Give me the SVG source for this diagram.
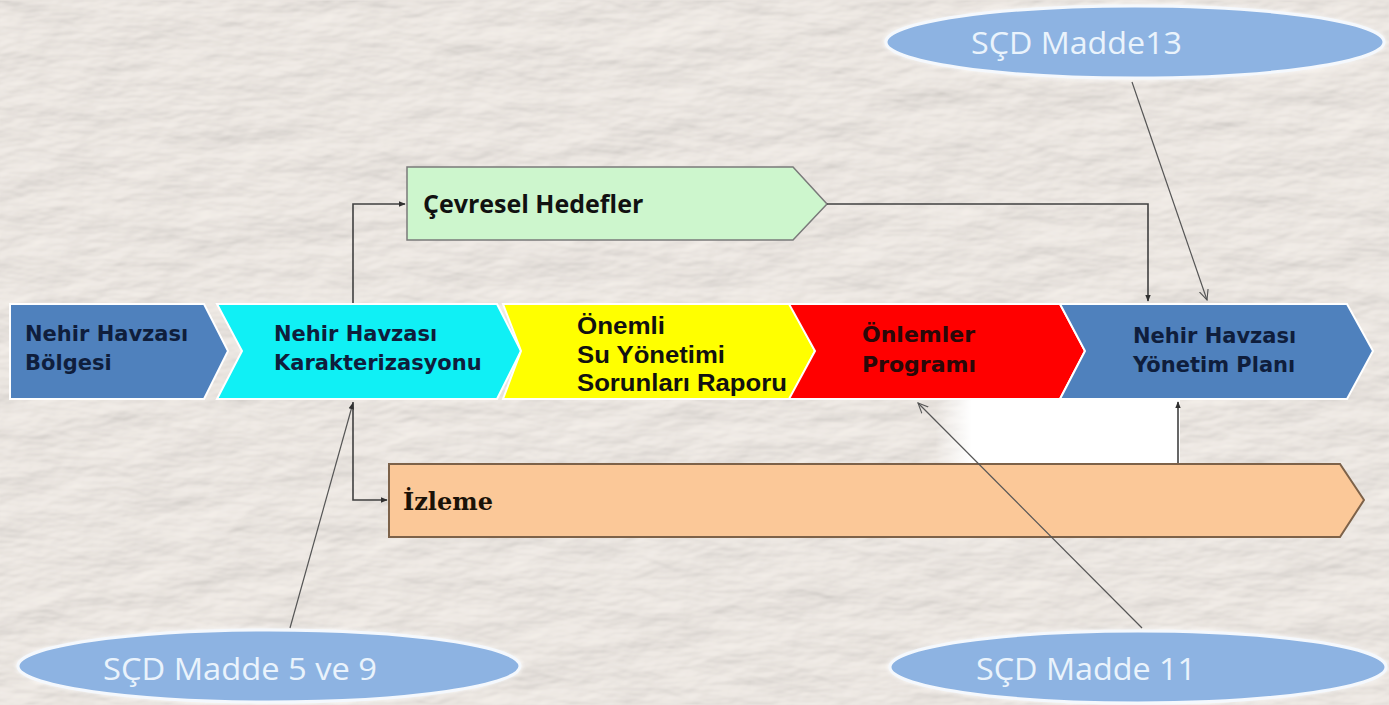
<svg xmlns="http://www.w3.org/2000/svg" width="1389" height="705" viewBox="0 0 1389 705">
<style>
  .t1 { font-family: "DejaVu Sans", Verdana, sans-serif; font-weight: bold; font-size: 21px; fill: #0f1e3c; }
  .t2 { font-family: "Liberation Sans", Arial, sans-serif; font-weight: bold; font-size: 24px; fill: #111; }
  .el { font-family: "Open Sans", "Noto Sans", sans-serif; font-size: 31px; fill: #eaf3fc; }
  .ell { fill: #8db3e2; stroke: #f4f8fd; stroke-width: 3; }
  .sep { stroke: #ffffff; stroke-width: 2; stroke-linejoin: miter; }
  .con { fill: none; stroke: #404040; stroke-width: 1.6; }
  .ref { fill: none; stroke: #555; stroke-width: 1.2; }
</style>
<defs>
  <filter id="paper" x="0" y="0" width="100%" height="100%">
    <feTurbulence type="fractalNoise" baseFrequency="0.012 0.03" numOctaves="4" seed="7" result="n"/>
    <feDiffuseLighting in="n" lighting-color="#f8f3ee" surfaceScale="3" result="l">
      <feDistantLight azimuth="235" elevation="60"/>
    </feDiffuseLighting>
    <feComposite in="l" in2="SourceGraphic" operator="in"/>
  </filter>
  <filter id="glow" x="-10%" y="-30%" width="120%" height="160%">
    <feGaussianBlur stdDeviation="2"/>
  </filter>
  <linearGradient id="wfade" x1="0" y1="0" x2="1" y2="0">
    <stop offset="0" stop-color="#ffffff" stop-opacity="0"/>
    <stop offset="0.15" stop-color="#ffffff" stop-opacity="1"/>
    <stop offset="1" stop-color="#ffffff" stop-opacity="1"/>
  </linearGradient>
  <marker id="ah" viewBox="0 0 10 10" refX="9" refY="5" markerWidth="7" markerHeight="7" orient="auto" markerUnits="userSpaceOnUse">
    <path d="M0,1 L10,5 L0,9 Z" fill="#303030"/>
  </marker>
  <marker id="ao" viewBox="0 0 12 12" refX="11" refY="6" markerWidth="11" markerHeight="11" orient="auto" markerUnits="userSpaceOnUse">
    <path d="M0,1 L11,6 L0,11" fill="none" stroke="#555" stroke-width="1.2"/>
  </marker>
</defs>

<rect x="0" y="0" width="1389" height="705" fill="#efe9e2"/>
<rect x="0" y="0" width="1389" height="705" fill="#efe9e2" filter="url(#paper)" opacity="0.8"/>

<rect x="935" y="400" width="245" height="63" fill="url(#wfade)"/>

<g id="n-bolge">
  <path class="sep" d="M10,304 H204 L228,351 L204,399 H10 Z" fill="#4f81bd"/>
  <text class="t1" x="25" y="341">Nehir Havzası</text>
  <text class="t1" x="25" y="370">Bölgesi</text>
</g>
<g id="n-karakter">
  <path class="sep" d="M217,304 H497 L521,351 L497,399 H217 L242,351 Z" fill="#10f0f5"/>
  <text class="t1" x="274" y="341">Nehir Havzası</text>
  <text class="t1" x="274" y="370">Karakterizasyonu</text>
</g>
<g id="n-onemli">
  <path class="sep" d="M503,304 H790 L815,351 L790,399 H503 L521,351 Z" fill="#ffff00"/>
  <text class="t2" x="577" y="334" textLength="88" lengthAdjust="spacingAndGlyphs">Önemli</text>
  <text class="t2" x="577" y="363" textLength="148" lengthAdjust="spacingAndGlyphs">Su Yönetimi</text>
  <text class="t2" x="577" y="391" textLength="210" lengthAdjust="spacingAndGlyphs">Sorunları Raporu</text>
</g>
<g id="n-onlemler">
  <path class="sep" d="M789,304 H1060 L1085,351 L1060,399 H789 L815,351 Z" fill="#ff0000"/>
  <text class="t1" x="862" y="342" style="fill:#2a0808;font-size:22px">Önlemler</text>
  <text class="t1" x="862" y="372" style="fill:#2a0808;font-size:22px">Programı</text>
</g>
<g id="n-plan">
  <path class="sep" d="M1060,304 H1347 L1373,351 L1347,399 H1060 L1085,351 Z" fill="#4f81bd"/>
  <text class="t1" x="1133" y="343">Nehir Havzası</text>
  <text class="t1" x="1133" y="372">Yönetim Planı</text>
</g>
<g id="n-cevresel">
  <path d="M407,167 H793 L827,204 L793,240 H407 Z" fill="#cdf6cd" stroke="#7a7a7a" stroke-width="1.5"/>
  <text x="423" y="213" style="font-family:'Open Sans','Noto Sans',sans-serif;font-weight:bold;font-size:25px;fill:#111">Çevresel Hedefler</text>
</g>
<g id="n-izleme">
  <path d="M389,464 H1340 L1364,500 L1340,537 H389 Z" fill="#fbc898" stroke="#7d6249" stroke-width="2"/>
  <text x="403" y="510" style="font-family:'DejaVu Serif','Liberation Serif',serif;font-weight:bold;font-size:24px;fill:#1a1208">İzleme</text>
</g>

<g id="e-madde13">
  <ellipse cx="1135" cy="42" rx="251" ry="38" fill="#ffffff" filter="url(#glow)" opacity="0.9"/>
  <ellipse class="ell" cx="1135" cy="42" rx="249" ry="36"/>
  <text class="el" x="971" y="54" textLength="211" lengthAdjust="spacingAndGlyphs">SÇD Madde13</text>
</g>
<g id="e-madde59">
  <ellipse cx="269" cy="666" rx="253" ry="38" fill="#ffffff" filter="url(#glow)" opacity="0.9"/>
  <ellipse class="ell" cx="269" cy="666" rx="251" ry="36"/>
  <text class="el" x="103" y="680" textLength="274" lengthAdjust="spacingAndGlyphs">SÇD Madde 5 ve 9</text>
</g>
<g id="e-madde11">
  <ellipse cx="1138" cy="667" rx="250" ry="38" fill="#ffffff" filter="url(#glow)" opacity="0.9"/>
  <ellipse class="ell" cx="1138" cy="667" rx="248" ry="36"/>
  <text class="el" x="976" y="680" textLength="220" lengthAdjust="spacingAndGlyphs">SÇD Madde 11</text>
</g>

<g id="connectors">
  <polyline class="con" points="353,303 353,204 405,204" marker-end="url(#ah)"/>
  <polyline class="con" points="827,204 1148,204 1148,301" marker-end="url(#ah)"/>
  <polyline class="con" points="353,402 353,500 387,500" marker-end="url(#ah)"/>
  <line class="con" x1="1178" y1="463" x2="1178" y2="402" marker-end="url(#ah)"/>
  <line class="ref" x1="1132" y1="82" x2="1207" y2="300" marker-end="url(#ao)"/>
  <line class="ref" x1="290" y1="628" x2="353" y2="403" marker-end="url(#ah)"/>
  <line class="ref" x1="1142" y1="628" x2="918" y2="403" marker-end="url(#ao)"/>
</g>
</svg>
